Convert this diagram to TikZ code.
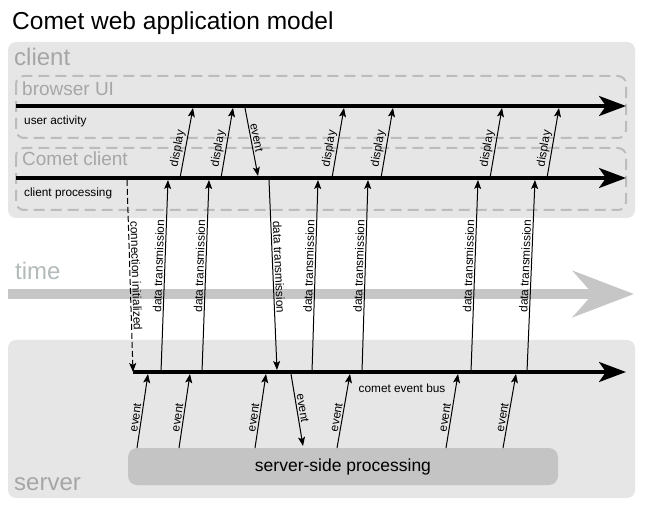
\documentclass[tikz,border=0pt]{standalone}
\usepackage{fontspec}
\setmainfont{Liberation Sans}
\usetikzlibrary{arrows.meta,positioning}
\definecolor{panelgray}{HTML}{E6E6E6}
\definecolor{labelgray}{HTML}{A6A6A6}
\definecolor{timetext}{HTML}{B2BABA}
\definecolor{dashgray}{HTML}{BCBCBC}
\definecolor{timegray}{HTML}{C6C6C6}
\definecolor{procgray}{HTML}{C4C4C4}

\begin{document}
\begin{tikzpicture}[x=1pt, y=-1pt,
    panel/.style={fill=panelgray, rounded corners=8pt},
    lane/.style={draw=dashgray, line width=2pt, dash pattern=on 11pt off 6pt, rounded corners=8pt},
    bigtitle/.style={font=\fontsize{24}{26}\selectfont, text=labelgray, anchor=base west, inner sep=0pt},
    lanetitle/.style={font=\fontsize{19}{21}\selectfont, text=labelgray, anchor=base west, inner sep=0pt},
    small/.style={font=\fontsize{11.8}{13}\selectfont, inner sep=1.5pt},
    bus/.style={line width=3.5pt, -{Stealth[length=27pt, width=20pt, inset=7pt]}},
    msg/.style={line width=1pt, -{Stealth[length=9pt, width=7pt, inset=2pt]}},
    lbl/.style={small, midway, sloped, above},
    procbox/.style={fill=procgray, rounded corners=9pt, minimum width=430pt, minimum height=37pt,
        font=\fontsize{17.5}{19}\selectfont}]
    \useasboundingbox (0,0) rectangle (646,505);

    \node[anchor=base west, inner sep=0pt, font=\fontsize{24.5}{27}\selectfont] (title) at (12,30) {Comet web application model};

    \fill[panel] (8,42) rectangle (635,218);
    \fill[panel] (8,340) rectangle (635,498);
    \draw[lane] (16,76) rectangle (626,138);
    \draw[lane] (16,148) rectangle (626,210);

    \node[bigtitle] (client) at (14,66) {client};
    \node[lanetitle] (browser) at (22,96) {browser UI};
    \node[lanetitle] (cometclient) at (22,166) {Comet client};
    \node[small, anchor=base west, inner sep=0pt] (activity) at (24,125) {user activity};
    \node[small, anchor=base west, inner sep=0pt] (clientproc) at (24,197) {client processing};
    \node[bigtitle, text=timetext] (time) at (15,280) {time};
    \node[bigtitle] (server) at (14,490) {server};
    \node[procbox] (proc) at (343,466.5) {server-side processing};
    \node[small, inner sep=0pt] (busname) at (402,388) {comet event bus};

    \coordinate (ui-a) at (16,106);
    \coordinate (ui-b) at (626,106);
    \coordinate (cc-a) at (16,178);
    \coordinate (cc-b) at (626,178);
    \coordinate (bus-a) at (133,372);
    \coordinate (bus-b) at (626,372);
    \coordinate (time-a) at (8,294);
    \coordinate (time-b) at (634,294);
    \draw[timegray, line width=10pt, -{Stealth[length=61pt, width=46pt, inset=20pt]}] (time-a) -- (time-b);
    \draw[bus] (ui-a) -- (ui-b);
    \draw[bus] (cc-a) -- (cc-b);
    \draw[bus] (bus-a) -- (bus-b);

    \coordinate (conn-a) at (127,180);
    \coordinate (conn-b) at (133,372);
    \draw[msg, dash pattern=on 6pt off 3pt] (conn-a) -- node[lbl, pos=0.5] {connection initialized} (conn-b);

    \foreach \n/\xa/\xb in {1/180/193, 2/221/233, 3/332/344, 4/381/393, 5/490/502, 6/547/559}{
        \coordinate (disp\n-a) at (\xa,178);
        \coordinate (disp\n-b) at (\xb,108);
        \draw[msg] (disp\n-a) -- node[lbl, pos=0.4] {display} (disp\n-b);
    }
    \coordinate (uievt-a) at (245,108);
    \coordinate (uievt-b) at (258,176);
    \draw[msg] (uievt-a) -- node[lbl, pos=0.45] {event} (uievt-b);

    \foreach \n/\xa/\xb in {1/161/168, 2/202/209, 3/312/318, 4/362/368, 5/471/478, 6/527/535}{
        \coordinate (data\n-a) at (\xa,372);
        \coordinate (data\n-b) at (\xb,180);
        \draw[msg] (data\n-a) -- node[lbl, pos=0.55] {data transmission} (data\n-b);
    }
    \coordinate (down-a) at (269,180);
    \coordinate (down-b) at (277,370);
    \draw[msg] (down-a) -- node[lbl, pos=0.46] {data transmission} (down-b);

    \foreach \n/\xa/\xb in {1/137/148, 2/179/190, 3/255/266, 4/337/350, 5/446/458, 6/503/516}{
        \coordinate (evt\n-a) at (\xa,448);
        \coordinate (evt\n-b) at (\xb,374);
        \draw[msg] (evt\n-a) -- node[lbl, pos=0.4] {event} (evt\n-b);
    }
    \coordinate (srvevt-a) at (291,374);
    \coordinate (srvevt-b) at (303,446);
    \draw[msg] (srvevt-a) -- node[lbl, pos=0.49] {event} (srvevt-b);
\end{tikzpicture}
\end{document}
